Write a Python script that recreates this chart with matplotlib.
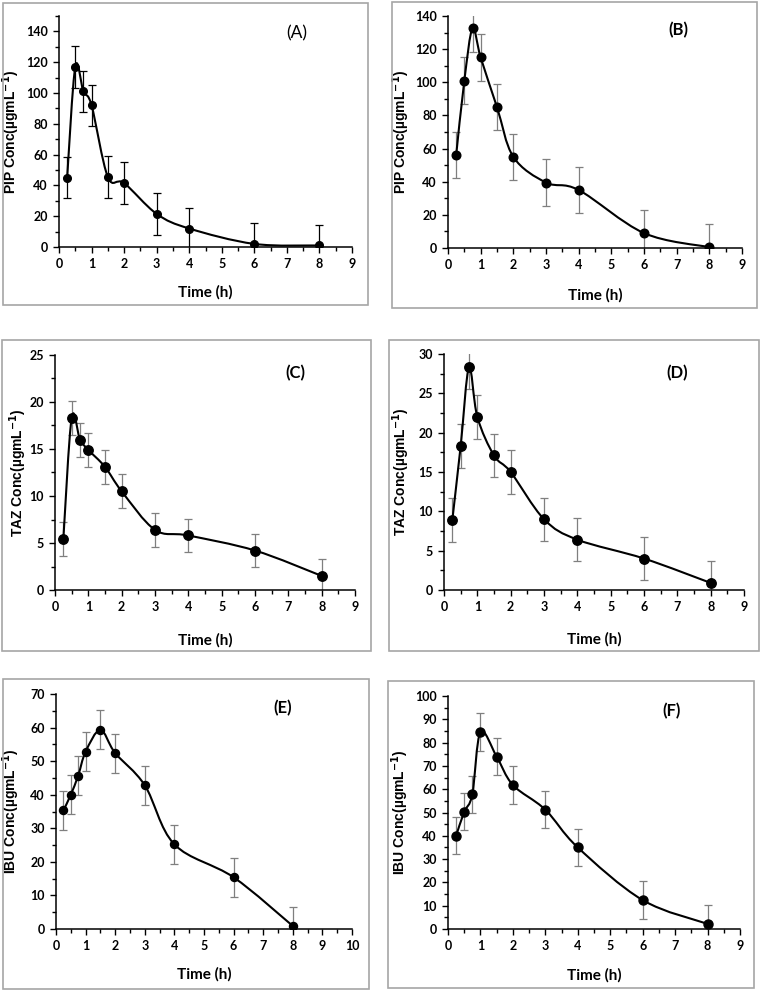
import numpy as np
import matplotlib
matplotlib.use("Agg")
import matplotlib.pyplot as plt
from matplotlib.path import Path
from matplotlib.patches import PathPatch, Rectangle
from matplotlib.ticker import MultipleLocator

# sampling times (h)
time_h = [0.25, 0.5, 0.75, 1, 1.5, 2, 3, 4, 6, 8]

# mean concentrations and SD
pip_a = [45, 117, 101, 92, 45.5, 41.5, 21.5, 12, 2, 1]
pip_a_sd = [13.5, 13.5, 13.5, 13.5, 13.5, 13.5, 13.5, 13.5, 13.5, 13.5]
pip_b = [56, 101, 132.5, 115, 85, 55, 39.5, 35, 9, 0.5]
pip_b_sd = [14, 14, 14, 14, 14, 14, 14, 14, 14, 14]
taz_c = [5.4, 18.3, 16.0, 14.9, 13.1, 10.5, 6.4, 5.8, 4.2, 1.5]
taz_c_sd = [1.8, 1.8, 1.8, 1.8, 1.8, 1.8, 1.8, 1.8, 1.8, 1.8]
taz_d = [8.9, 18.3, 28.3, 22.0, 17.1, 15.0, 9.0, 6.4, 4.0, 0.9]
taz_d_sd = [2.75, 2.75, 2.75, 2.75, 2.75, 2.75, 2.75, 2.75, 2.75, 2.75]
ibu_e = [35.3, 40, 45.7, 52.8, 59.3, 52.4, 42.8, 25.2, 15.4, 0.9]
ibu_e_sd = [5.8, 5.8, 5.8, 5.8, 5.8, 5.8, 5.8, 5.8, 5.8, 5.8]
ibu_f = [40, 50.3, 57.8, 84.5, 74, 61.8, 51.2, 35, 12.4, 2.2]
ibu_f_sd = [8, 8, 8, 8, 8, 8, 8, 8, 8, 8]

W, H = 761, 992
TICK_FONT = ["Lato", "DejaVu Sans"]


def smooth_path(x, y):
    """Excel-like smoothed line as cubic Bezier segments."""
    pts = np.column_stack([x, y]).astype(float)
    n = len(pts)
    verts, codes = [tuple(pts[0])], [Path.MOVETO]
    for i in range(n - 1):
        p0 = pts[i - 1] if i > 0 else pts[i]
        p1, p2 = pts[i], pts[i + 1]
        p3 = pts[i + 2] if i + 2 < n else pts[i + 1]
        verts += [tuple(p1 + (p2 - p0) / 6), tuple(p2 - (p3 - p1) / 6), tuple(p2)]
        codes += [Path.CURVE4] * 3
    return Path(verts, codes)


def panel(fig, box, axpx, y, sd, drug, tag, ymax, ytop, ystep, xmax, ms,
          ecolor, ylab_x, xlab_dy, tag_xy, tag_bold=True):
    bx0, by0, bx1, by1 = box
    fig.patches.append(Rectangle((bx0 / W, 1 - by1 / H), (bx1 - bx0) / W,
                                 (by1 - by0) / H, transform=fig.transFigure,
                                 fill=False, edgecolor="#a6a6a6", lw=1.2))
    left, right, top, bottom = axpx
    ax = fig.add_axes([left / W, 1 - bottom / H, (right - left) / W, (bottom - top) / H])
    ax.errorbar(time_h, y, yerr=sd, fmt="none", ecolor=ecolor, elinewidth=0.9,
                capsize=3, capthick=0.9, zorder=2)
    ax.add_patch(PathPatch(smooth_path(time_h, y), fill=False, lw=1.5,
                           edgecolor="black", zorder=3))
    ax.plot(time_h, y, "o", color="black", ms=ms, zorder=4)
    ax.set_xlim(0, xmax)
    ax.set_ylim(0, ymax)
    ax.set_xticks(range(0, xmax + 1))
    ax.set_yticks(np.arange(0, ytop + ystep / 2, ystep))
    ax.xaxis.set_minor_locator(MultipleLocator(0.5))
    ax.yaxis.set_minor_locator(MultipleLocator(ystep / 2))
    for s in ["top", "right"]:
        ax.spines[s].set_visible(False)
    for s in ["left", "bottom"]:
        ax.spines[s].set_linewidth(1.1)
    ax.tick_params(which="major", direction="out", length=4, width=1.0, pad=4)
    ax.tick_params(which="minor", direction="out", length=3, width=1.0)
    for lab in ax.get_xticklabels() + ax.get_yticklabels():
        lab.set_family(TICK_FONT)
        lab.set_fontweight("bold")
        lab.set_fontsize(9)
    ax.set_ylabel(drug + r" Conc(µgmL$^{\mathbf{-1}}$)", family="Liberation Sans",
                  fontweight="bold", fontsize=10)
    ax.yaxis.set_label_coords((ylab_x - left) / (right - left), 0.5)
    ax.set_xlabel("Time (h)", family=TICK_FONT, fontweight="bold", fontsize=11)
    ax.xaxis.set_label_coords(0.5, -xlab_dy / (bottom - top))
    fig.text(tag_xy[0] / W, 1 - tag_xy[1] / H, tag, ha="center", va="center",
             family=TICK_FONT, fontsize=12.5 if not tag_bold else 12,
             fontweight="bold" if tag_bold else "normal")
    return ax


plt.rcParams["mathtext.default"] = "bf"
fig = plt.figure(figsize=(W / 100, H / 100), dpi=100)

panel(fig, (3, 3, 368, 305), (59, 352, 16, 247), pip_a, pip_a_sd, "PIP", "(A)",
      150, 140, 20, 9, 5.5, "black", 22, 38, (297, 33), tag_bold=False)
panel(fig, (392, 2, 757, 308), (448, 742, 16, 248), pip_b, pip_b_sd, "PIP", "(B)",
      140, 140, 20, 9, 6.2, "#7f7f7f", 412, 40, (678, 30))
panel(fig, (2, 340, 371, 651), (55, 355, 355, 590), taz_c, taz_c_sd, "TAZ", "(C)",
      25, 25, 5, 9, 6.8, "#7f7f7f", 29, 43, (295, 373))
panel(fig, (389, 340, 759, 651), (444, 744, 354, 590), taz_d, taz_d_sd, "TAZ", "(D)",
      30, 30, 5, 9, 6.8, "#7f7f7f", 412, 42, (677, 373))
panel(fig, (3, 679, 369, 989), (56, 352, 694, 929), ibu_e, ibu_e_sd, "IBU", "(E)",
      70, 70, 10, 10, 5.8, "#7f7f7f", 22, 38, (283, 708))
panel(fig, (388, 681, 754, 988), (448, 740, 696, 929), ibu_f, ibu_f_sd, "IBU", "(F)",
      100, 100, 10, 9, 6.5, "#7f7f7f", 411, 39, (672, 711))

fig.savefig("out.png", dpi=100)
